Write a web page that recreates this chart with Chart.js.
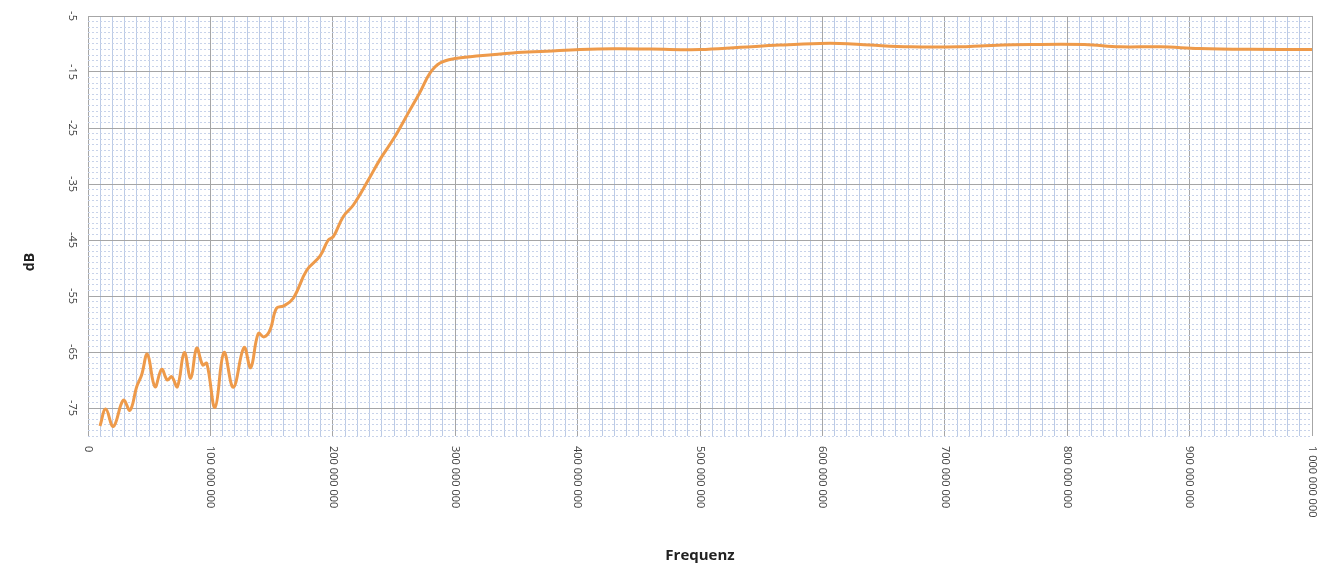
<!DOCTYPE html>
<html>
<head>
<meta charset="utf-8">
<script src="https://cdn.jsdelivr.net/npm/chart.js@4.4.1/dist/chart.umd.min.js"></script>
<style>
  html, body { margin: 0; padding: 0; background: #fff; }
  #wrap { width: 1338px; height: 567px; }
</style>
</head>
<body>
<div id="wrap"><canvas id="freqChart"></canvas></div>
<script>
// Frequenzgang (MHz / dB)
let freqMHz = [9.8, 14.5, 20.7, 28.9, 34.3, 39.8, 43.8, 48.5, 54.7, 60.2, 64.8, 68.4, 73, 78.7, 83.9, 88.8, 93.7, 97,
  103.8, 111.1, 118.7, 127.5, 132.9, 139.1, 143.8, 148.7, 154, 159.6, 167.7, 178.7, 189.5, 196.3, 200.4, 208.6, 216.8,
  229, 238.6, 250, 261.7, 271, 279.4, 287.6, 299.8, 320, 347, 374.8, 402, 429, 460, 500, 533, 565, 598, 614, 639, 672,
  712, 733, 770, 814, 843, 876, 908, 949, 1000];
let levelDb = [-78.2, -75.2, -78.3, -73.6, -75.4, -71.2, -69.1, -65.4, -71.2, -68.1, -70, -69.4, -71.2, -65.1, -69.7, -64.3, -67.3, -67,
  -74.9, -65.1, -71.3, -64.2, -67.8, -61.7, -62.3, -61.1, -57.2, -56.8, -55.4, -50.4, -47.9, -45, -44.4, -40.8, -38.75,
  -34.3, -30.6, -26.8, -22.3, -18.7, -15.2, -13.4, -12.6, -12.1, -11.6, -11.3, -11.0, -10.85, -10.9, -11.0, -10.6, -10.2, -9.9, -9.9, -10.2, -10.5,
  -10.5, -10.3, -10.1, -10.1, -10.5, -10.5, -10.8, -10.95, -11.0];

let xMin = 0, xMax = 1000000000, xMajor = 100000000, xMinor = 10000000;
let yMin = -80, yMax = -5, yMajor = 10, yMinor = 1;
let xTitle = 'Frequenz';
let yTitle = 'dB';

let points = freqMHz.map((f, i) => ({ x: f * 1000000, y: levelDb[i] }));

let majorColor = '#a6a6a6';
let minorColorX = '#bccbe6';
let minorColorY = '#c8d3ea';
let labelFont = '11px "Open Sans"';
let fmt = (v) => String(Math.round(v)).replace(/\B(?=(\d{3})+(?!\d))/g, ' ');

let isMajorX = (v) => Math.abs(v % xMajor) < 1;
let isMajorY = (v) => Math.abs((v - yMax) % yMajor) < 0.001;

// tick labels are turned clockwise (read top to bottom), which Chart.js can't do by itself
let clockwiseLabels = {
  id: 'clockwiseLabels',
  afterDraw(chart) {
    let c = chart.ctx;
    let xs = chart.scales.x, ys = chart.scales.y;
    c.save();
    c.fillStyle = '#404040';
    c.font = labelFont;
    xs.ticks.forEach((t) => {
      if (!isMajorX(t.value)) return;
      let px = xs.getPixelForValue(t.value);
      c.save();
      c.translate(px, xs.top + 10);
      c.rotate(Math.PI / 2);
      c.textAlign = 'left';
      c.textBaseline = 'middle';
      c.fillText(fmt(t.value), 0, 0);
      c.restore();
    });
    ys.ticks.forEach((t) => {
      if (!isMajorY(t.value)) return;
      let py = ys.getPixelForValue(t.value);
      c.save();
      c.translate(ys.right - 16, py);
      c.rotate(Math.PI / 2);
      c.textAlign = 'center';
      c.textBaseline = 'middle';
      c.fillText(String(t.value), 0, 0);
      c.restore();
    });
    // y title sits a bit below the middle of the plot
    c.save();
    c.fillStyle = '#222';
    c.font = 'bold 14px "Open Sans"';
    c.translate(30, 262);
    c.rotate(-Math.PI / 2);
    c.textAlign = 'center';
    c.textBaseline = 'middle';
    c.fillText(yTitle, 0, 0);
    c.restore();
    c.restore();
  }
};

let ctx = document.getElementById('freqChart').getContext('2d');
let myChart = new Chart(ctx, {
  type: 'line',
  data: {
    datasets: [{
      data: points,
      borderColor: '#ee9a4a',
      borderWidth: 3,
      pointRadius: 0,
      tension: 0.4,
      fill: false
    }]
  },
  options: {
    responsive: true,
    maintainAspectRatio: false,
    animation: false,
    layout: { padding: { top: 16, right: 26, bottom: 0, left: 0 } },
    plugins: { legend: { display: false }, tooltip: { enabled: false } },
    scales: {
      x: {
        type: 'linear',
        min: xMin,
        max: xMax,
        afterBuildTicks: (scale) => {
          let t = [];
          for (let v = xMin; v <= xMax; v += xMinor) t.push({ value: v });
          scale.ticks = t;
        },
        afterFit: (scale) => { scale.height = 131; },
        ticks: { display: false, autoSkip: false },
        grid: {
          drawTicks: false,
          color: (c) => c.tick && isMajorX(c.tick.value) ? majorColor : minorColorX,
          lineWidth: 1
        },
        border: { display: false },
        title: {
          display: true,
          text: xTitle,
          color: '#222',
          font: { family: 'Open Sans', size: 15, weight: 'bold' },
          padding: { top: 0, bottom: 2 }
        }
      },
      y: {
        type: 'linear',
        min: yMin,
        max: yMax,
        afterBuildTicks: (scale) => {
          let t = [];
          for (let v = yMin; v <= yMax; v += yMinor) t.push({ value: v });
          scale.ticks = t;
        },
        afterFit: (scale) => { scale.width = 88; },
        ticks: { display: false, autoSkip: false },
        grid: {
          drawTicks: false,
          color: (c) => c.tick && isMajorY(c.tick.value) ? majorColor : minorColorY,
          lineWidth: 1
        },
        border: {
          display: false,
          dash: (c) => c.tick && !isMajorY(c.tick.value) ? [2, 2] : []
        }
      }
    }
  },
  plugins: [clockwiseLabels]
});
</script>
</body>
</html>
